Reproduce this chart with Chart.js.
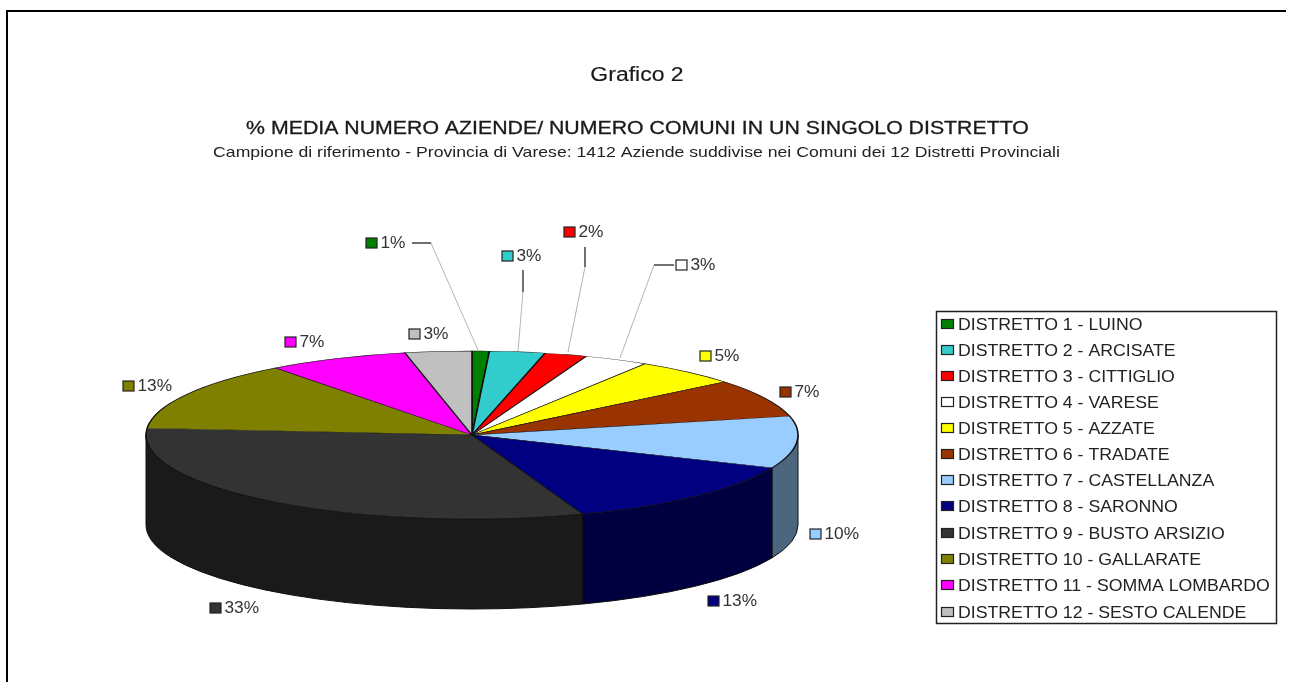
<!DOCTYPE html>
<html><head><meta charset="utf-8">
<style>html,body{margin:0;padding:0;background:#fff}#w{width:1292px;height:682px;position:relative}</style>
<script src="https://cdn.jsdelivr.net/npm/chart.js@4"></script>
</head><body><div id="w"><canvas id="c" width="1292" height="682"></canvas></div>
<script>
const categories = ['DISTRETTO 1 - LUINO','DISTRETTO 2 - ARCISATE','DISTRETTO 3 - CITTIGLIO','DISTRETTO 4 - VARESE','DISTRETTO 5 - AZZATE','DISTRETTO 6 - TRADATE','DISTRETTO 7 - CASTELLANZA','DISTRETTO 8 - SARONNO','DISTRETTO 9 - BUSTO ARSIZIO','DISTRETTO 10 - GALLARATE','DISTRETTO 11 - SOMMA LOMBARDO','DISTRETTO 12 - SESTO CALENDE'];
const shares = [0.85,2.75,2.1,3.2,5.2,7.3,10.0,13.1,31.8,13.4,7.0,3.3];
const percentLabels = ['1%','3%','2%','3%','5%','7%','10%','13%','33%','13%','7%','3%'];
const colors = ['#008000','#33CCCC','#FF0000','#FFFFFF','#FFFF00','#993300','#99CCFF','#000080','#333333','#808000','#FF00FF','#C0C0C0'];
const wallColors = ['#004000','#1a6666','#800000','#808080','#808000','#4d1a00','#4d6680','#000040','#1a1a1a','#404000','#800080','#606060'];
const labelAnchors = [[366,243],[502,256],[564,232],[676,265],[700,356],[780,392],[810,534],[708,601],[210,608],[123,386],[285,342],[409,334]];
const leaders = [[[412,243],[431,243],[478,350]],[[523,270],[523,292],[518,351]],[[585,247],[585,267],[568,352]],[[674,265],[654,265],[620,358]]];
const titleMain='Grafico 2', titleSub='% MEDIA NUMERO AZIENDE/ NUMERO COMUNI IN UN SINGOLO DISTRETTO', titleNote='Campione di riferimento - Provincia di Varese: 1412 Aziende suddivise nei Comuni dei 12 Distretti Provinciali';

const CX=472, CY=435, RX=326, RY=84, DEPTH=90, K=RY/RX;
const F='"Liberation Sans",Arial,sans-serif';

function wideText(ctx,text,x,y,sx,heavy){
  ctx.save();
  ctx.translate(x,y); ctx.scale(sx,1);
  ctx.fillText(text,0,0);
  if(heavy){ctx.lineWidth=heavy; ctx.strokeStyle=ctx.fillStyle; ctx.strokeText(text,0,0);}
  ctx.restore();
}

const pie3d = {
  id:'pie3d',
  beforeDraw(chart){
    const ctx=chart.ctx;
    ctx.save();
    ctx.fillStyle='#fff'; ctx.fillRect(0,0,1292,682);
    ctx.fillStyle='#000';
    ctx.fillRect(6,10,1280,2);
    ctx.fillRect(6,10,2,672);
    ctx.textBaseline='middle'; ctx.textAlign='center'; ctx.fillStyle='#1a1a1a';
    ctx.font='20px '+F; wideText(ctx,titleMain,637,75.5,1.15,0.15);
    ctx.font='18.5px '+F; wideText(ctx,titleSub,637.5,128.5,1.151,0.3);
    ctx.fillStyle='#222';
    ctx.font='15px '+F; wideText(ctx,titleNote,636.5,153,1.176,0);
    ctx.restore();
  },
  beforeDatasetsDraw(chart){
    const ctx=chart.ctx, arcs=chart.getDatasetMeta(0).data;
    const wall=(a0,a1,fill)=>{
      const s=Math.max(a0,0), e=Math.min(a1,Math.PI);
      if(e<=s) return;
      ctx.beginPath();
      ctx.ellipse(CX,CY,RX,RY,0,s,e,false);
      ctx.ellipse(CX,CY+DEPTH,RX,RY,0,e,s,true);
      ctx.closePath();
      ctx.fillStyle=fill; ctx.fill();
      ctx.strokeStyle='#111'; ctx.lineWidth=1; ctx.stroke();
    };
    ctx.save();
    arcs.forEach((arc,i)=>{
      const a0=arc.startAngle,a1=arc.endAngle;
      wall(a0,a1,wallColors[i]);
      wall(a0-2*Math.PI,a1-2*Math.PI,wallColors[i]);
    });
    ctx.restore();
    const a=arcs[0];
    ctx.save();
    ctx.translate(CX,CY); ctx.scale(1,K); ctx.translate(-a.x,-a.y);
  },
  afterDatasetsDraw(chart){
    const ctx=chart.ctx;
    ctx.restore();
    ctx.save();
    leaders.forEach(l=>{
      ctx.strokeStyle='#b5b5b5'; ctx.lineWidth=1;
      ctx.beginPath(); ctx.moveTo(l[1][0],l[1][1]); ctx.lineTo(l[2][0],l[2][1]); ctx.stroke();
      ctx.strokeStyle='#111'; ctx.lineWidth=1.2;
      ctx.beginPath(); ctx.moveTo(l[0][0],l[0][1]); ctx.lineTo(l[1][0],l[1][1]); ctx.stroke();
    });
    ctx.textBaseline='middle'; ctx.textAlign='left';
    ctx.font='16px '+F;
    percentLabels.forEach((t,i)=>{
      const [x,y]=labelAnchors[i];
      ctx.fillStyle=colors[i]; ctx.fillRect(x,y-5,11,10);
      ctx.strokeStyle='#222'; ctx.lineWidth=1.2; ctx.strokeRect(x,y-5,11,10);
      ctx.fillStyle='#333'; wideText(ctx,t,x+14.5,y+0.5,1.08,0);
    });
    ctx.fillStyle='#fff'; ctx.fillRect(936,311,341,313);
    ctx.strokeStyle='#222'; ctx.lineWidth=1.5; ctx.strokeRect(936.5,311.5,340,312);
    ctx.font='16.5px '+F;
    const rows=[324,350,376,402,428,454,480,506,533,559,585,612];
    categories.forEach((t,i)=>{
      const y=rows[i];
      ctx.fillStyle=colors[i]; ctx.fillRect(941.5,y-4.5,12,9);
      ctx.strokeStyle='#222'; ctx.lineWidth=1.2; ctx.strokeRect(941.5,y-4.5,12,9);
      ctx.fillStyle='#222'; wideText(ctx,t,958,y+1,1.072,0);
    });
    ctx.restore();
  }
};

new Chart(document.getElementById('c'),{
  type:'pie',
  data:{labels:categories,datasets:[{data:shares,backgroundColor:colors,borderColor:'#111',borderWidth:1.6,radius:RX,clip:false}]},
  options:{responsive:false,animation:false,events:[],plugins:{legend:{display:false},tooltip:{enabled:false},title:{display:false}}},
  plugins:[pie3d]
});
</script></body></html>
